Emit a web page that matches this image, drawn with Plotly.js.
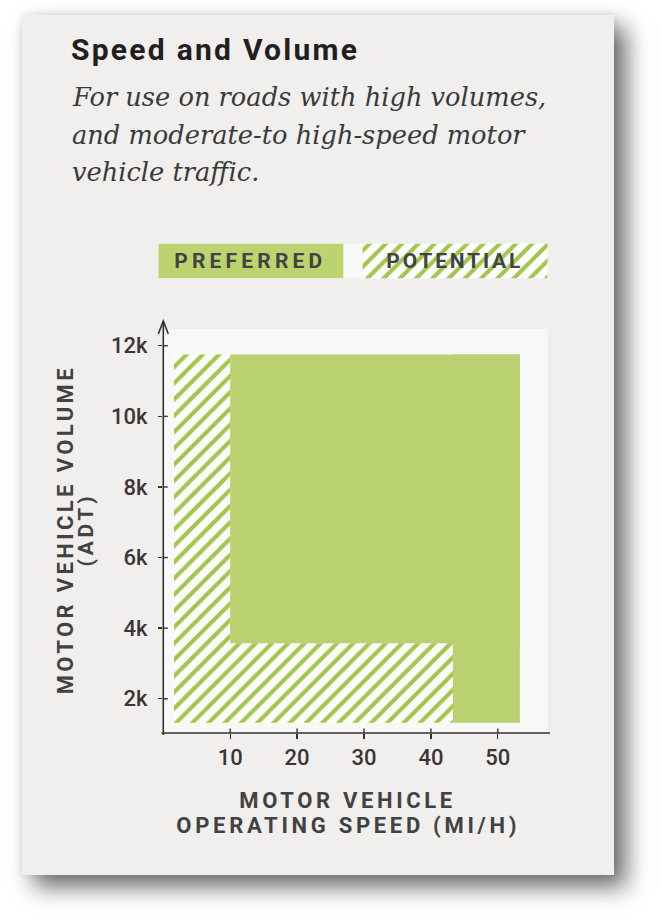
<!DOCTYPE html>
<html>
<head>
<meta charset="utf-8">
<script src="https://cdn.plot.ly/plotly-3.0.1.min.js"></script>
<style>
  html, body { margin:0; padding:0; background:#ffffff; width:662px; height:921px; overflow:hidden; }
  #card { position:absolute; left:22px; top:15px; width:592px; height:860px; background:#f0efed;
          box-shadow: 12px 12px 22px rgba(0,0,0,0.58), 0 0 8px rgba(0,0,0,0.10); }
  #chart { position:absolute; left:0; top:0; width:662px; height:921px; }
</style>
</head>
<body>
<div id="card"></div>
<div id="chart"></div>
<script>
// ---------------- data ----------------
const potentialX0 = [1.6, 10];
const potentialX1 = [10, 43.3];
const potentialY0 = [1320, 1320];
const potentialY1 = [11750, 3570];

const preferredX0 = [10, 43.3];
const preferredX1 = [53.3, 53.3];
const preferredY0 = [3570, 1320];
const preferredY1 = [11750, 11750];

const xTickVals = [10, 20, 30, 40, 50];
const xTickText = ['10', '20', '30', '40', '50'];
const yTickVals = [2000, 4000, 6000, 8000, 10000, 12000];
const yTickText = ['2k', '4k', '6k', '8k', '10k', '12k'];

const legendLabels = ['PREFERRED', 'POTENTIAL'];
const titleText = 'Speed and Volume';
const subtitleLines = ['For use on roads with high volumes,', 'and moderate-to high-speed motor', 'vehicle traffic.'];
const xTitleLines = ['MOTOR VEHICLE', 'OPERATING SPEED (MI/H)'];
const yTitleLines = ['MOTOR VEHICLE VOLUME', '(ADT)'];

// ---------------- layout helpers ----------------
const W = 662, H = 921;
const px = v => v / W;
const py = v => 1 - v / H;

const GREEN = '#b9d171';
const STRIPE = '#a2c64b';
const HATCH_BG = '#fcfcfc';
const AXIS = '#353031';

function rectBars(x0, x1, y0, y1) {
  return {
    x: x0.map((a, i) => (a + x1[i]) / 2),
    width: x0.map((a, i) => x1[i] - a),
    base: y0,
    y: y0.map((a, i) => y1[i] - a)
  };
}

const pot = rectBars(potentialX0, potentialX1, potentialY0, potentialY1);
const pref = rectBars(preferredX0, preferredX1, preferredY0, preferredY1);

const hatch = { shape: '/', size: 11.5, solidity: 0.36, fgcolor: STRIPE, bgcolor: HATCH_BG, fillmode: 'replace' };

const traces = [
  Object.assign({ type: 'bar', name: legendLabels[1], xaxis: 'x', yaxis: 'y', hoverinfo: 'skip',
    marker: { color: STRIPE, line: { width: 0 }, pattern: hatch } }, pot),
  Object.assign({ type: 'bar', name: legendLabels[0], xaxis: 'x', yaxis: 'y', hoverinfo: 'skip',
    marker: { color: GREEN, line: { width: 0 } } }, pref),
  { type: 'bar', x: [legendLabels[0]], y: [1], base: 0, width: 0.905, xaxis: 'x2', yaxis: 'y2', hoverinfo: 'skip',
    marker: { color: '#bcd46f', line: { width: 0 } } },
  { type: 'bar', x: [legendLabels[1]], y: [1], base: 0, width: 0.905, xaxis: 'x2', yaxis: 'y2', hoverinfo: 'skip',
    marker: { color: STRIPE, line: { width: 0 }, pattern: Object.assign({}, hatch, { bgcolor: '#ffffff' }) } }
];

const tickFont = { family: 'Roboto', size: 22, weight: 500, color: '#3b3535' };
const capsFont = { family: 'Roboto', size: 22, weight: 700, color: '#424242' };

// fit subtitle font size to the measured line width
const SUB_FAMILY = 'DejaVu Serif';
const cv = document.createElement('canvas').getContext('2d');
cv.font = 'italic 24px "' + SUB_FAMILY + '"';
const subW = cv.measureText(subtitleLines[0]).width;
const subSize = Math.round(24 * 474 / subW * 10) / 10;

const X0 = 163.3, X1 = 547.5, Y0 = 329, Y1 = 733;

const shapes = [];
// axis lines
shapes.push({ type: 'line', xref: 'paper', yref: 'paper', x0: px(161.5), x1: px(550), y0: py(Y1), y1: py(Y1), line: { color: AXIS, width: 1.6 } });
shapes.push({ type: 'line', xref: 'paper', yref: 'paper', x0: px(X0), x1: px(X0), y0: py(735), y1: py(321.5), line: { color: AXIS, width: 1.6 } });
// arrow head
shapes.push({ type: 'path', xref: 'paper', yref: 'paper',
  path: `M ${px(158.3)} ${py(334)} L ${px(X0)} ${py(321)} L ${px(168.3)} ${py(334)}`,
  line: { color: AXIS, width: 1.6 } });
// inner halves of crossing ticks
xTickVals.forEach(v => shapes.push({ type: 'line', xref: 'x', yref: 'paper', x0: v, x1: v, y0: py(Y1), y1: py(Y1 - 4.5), line: { color: AXIS, width: 1.4 } }));
yTickVals.forEach(v => shapes.push({ type: 'line', xref: 'paper', yref: 'y', x0: px(X0), x1: px(X0 + 4.5), y0: v, y1: v, line: { color: AXIS, width: 1.4 } }));

const annotations = [];
// subtitle
const subY = [97, 134.5, 172];
subtitleLines.forEach((t, i) => annotations.push({
  text: t, xref: 'paper', yref: 'paper', x: px(70), y: py(subY[i]), xanchor: 'left', yanchor: 'middle', showarrow: false,
  font: { family: SUB_FAMILY, size: subSize, style: 'italic', color: '#3a3a3a' }
}));
// legend labels
legendLabels.forEach(t => annotations.push({
  text: t, xref: 'x2', yref: 'y2', x: t, y: 0.5, xanchor: 'center', yanchor: 'middle', showarrow: false,
  font: { family: 'Roboto', size: 21, weight: 700, color: '#434343' }
}));
// x title
const xTitleY = [800.5, 825];
xTitleLines.forEach((t, i) => annotations.push({
  text: t, xref: 'paper', yref: 'paper', x: px(347.5), y: py(xTitleY[i]), xanchor: 'center', yanchor: 'middle', showarrow: false,
  font: capsFont
}));
// y title
const yTitleX = [64.5, 86];
yTitleLines.forEach((t, i) => annotations.push({
  text: t, xref: 'paper', yref: 'paper', x: px(yTitleX[i]), y: py(530), xanchor: 'center', yanchor: 'middle', showarrow: false,
  textangle: -90, font: Object.assign({}, capsFont, { size: i === 0 ? 22 : 21 })
}));

const layout = {
  width: W, height: H,
  margin: { l: 0, r: 0, t: 0, b: 0 },
  paper_bgcolor: 'rgba(0,0,0,0)',
  plot_bgcolor: '#f8f8f8',
  showlegend: false,
  barmode: 'overlay',
  title: { text: titleText, xref: 'paper', yref: 'paper', x: px(71), xanchor: 'left', y: py(49), yanchor: 'middle',
           font: { family: 'Roboto', size: 30, weight: 700, color: '#231f20' } },
  xaxis: { domain: [px(X0), px(X1)], range: [0, (X1 - X0) / 6.69], tickvals: xTickVals, ticktext: xTickText,
           ticks: 'outside', ticklen: 4.5, tickwidth: 1.4, tickcolor: AXIS, ticklabelstandoff: 0,
           showgrid: false, zeroline: false, showline: false, tickfont: tickFont, fixedrange: true, anchor: 'y' },
  yaxis: { domain: [py(Y1), py(Y0)], range: [1030, 1030 + (Y1 - Y0) / 0.0353], tickvals: yTickVals, ticktext: yTickText,
           ticks: 'outside', ticklen: 4.5, tickwidth: 1.4, tickcolor: AXIS, ticklabelstandoff: 6,
           showgrid: false, zeroline: false, showline: false, tickfont: tickFont, fixedrange: true, anchor: 'x' },
  xaxis2: { domain: [px(158.3), px(547.7)], type: 'category', categoryorder: 'array', categoryarray: legendLabels,
            range: [-0.4525, 1.4525], visible: false, fixedrange: true, anchor: 'y2' },
  yaxis2: { domain: [py(278.5), py(243.5)], range: [0, 1], visible: false, fixedrange: true, anchor: 'x2' },
  shapes: shapes,
  annotations: annotations
};

// target ink widths (px) for letter-spaced caps texts (all centre-anchored, or start-anchored title)
const targetWidths = {};
targetWidths[titleText] = 286;
targetWidths[legendLabels[0]] = 148;
targetWidths[legendLabels[1]] = 134;
targetWidths[xTitleLines[0]] = 213;
targetWidths[xTitleLines[1]] = 340;
targetWidths[yTitleLines[0]] = 326;
targetWidths[yTitleLines[1]] = 70;

function applySpacing(gd) {
  gd.querySelectorAll('text').forEach(t => {
    const s = t.textContent;
    if (targetWidths[s] !== undefined && s.length > 1) {
      t.style.letterSpacing = '0px';
      const len = t.getComputedTextLength();
      const sp = Math.max(0, (targetWidths[s] - len) / (s.length - 1));
      t.style.letterSpacing = sp.toFixed(2) + 'px';
    }
  });
}

Plotly.newPlot('chart', traces, layout, { staticPlot: true, displayModeBar: false }).then(applySpacing);
</script>
</body>
</html>
